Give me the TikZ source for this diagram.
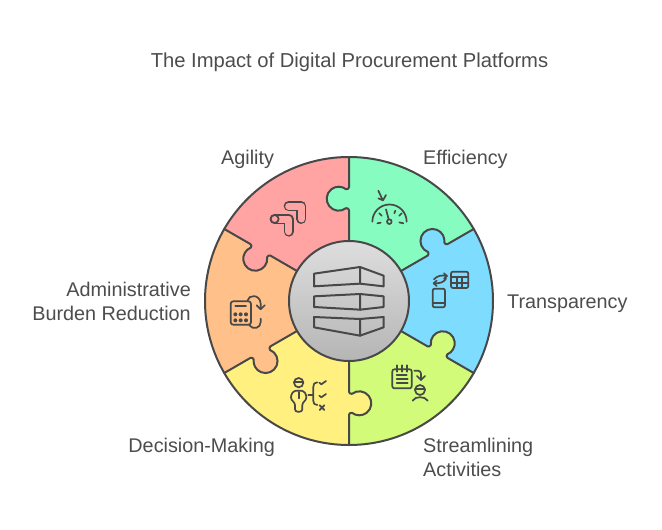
\documentclass[tikz,border=0pt]{standalone}
\usepackage{fontspec}
\setmainfont{Liberation Sans}
\definecolor{ink}{HTML}{484848}
\definecolor{txt}{HTML}{4D4D4D}
\definecolor{cgreen}{HTML}{87FCC0}
\definecolor{cblue}{HTML}{7EDCFF}
\definecolor{clime}{HTML}{D1FB79}
\definecolor{cyellow}{HTML}{FFF07F}
\definecolor{corange}{HTML}{FFC08A}
\definecolor{cpink}{HTML}{FFA3A3}
\tikzset{
  label/.style={font=\fontsize{19.8}{24}\selectfont,text=txt,inner sep=0pt,anchor=base west},
  labelr/.style={label,anchor=base east},
  title/.style={label,font=\fontsize{20.2}{24}\selectfont,anchor=base},
  edge/.style={draw=ink,line width=2pt,line cap=round,line join=round},
  icon/.style={draw=ink,line width=1.7pt,line cap=round,line join=round},
  ribouter/.style={draw=ink,line width=10pt,line cap=round,line join=round},
  ribinner/.style={draw=cpink,line width=7pt,line cap=round,line join=round},
  zoomed/.style={shift={#1},scale=1/3},
}
\newcommand{\tabcurve}{(0,-60) -- (0,-90.8) .. controls (0,-92.5) and (-1.5,-92.6) .. (-2.9,-92.84) arc[start angle=52,end angle=308,radius=12] .. controls (-1.5,-112) and (0,-112) .. (0,-113.7)}
\begin{document}
\begin{tikzpicture}[x=1pt,y=-1pt]
\useasboundingbox (0,0) rectangle (662,530);
\fill[white] (0,0) rectangle (662,530);
\node[title] (ttl) at (349.5,67.5) {The Impact of Digital Procurement Platforms};
% sectors
\foreach \k/\c in {0/cgreen,1/cblue,2/clime,3/cyellow,4/corange,5/cpink}{
  \begin{scope}[shift={(349,301)},rotate=-60*\k]
    \fill[\c] (0,0) -- (0,-144) arc[start angle=-90,end angle=-30,radius=144] -- cycle;
  \end{scope}}
\foreach \k/\c in {0/cgreen,1/cblue,2/clime,3/cyellow,4/corange,5/cpink}{
  \begin{scope}[shift={(349,301)},rotate=-60*\k]
    \fill[\c] \tabcurve -- (1,-113.7) -- (1,-90.8) -- cycle;
  \end{scope}}
\foreach \k in {0,...,5}{
  \begin{scope}[shift={(349,301)},rotate=-60*\k]
    \draw[edge] \tabcurve -- (0,-144);
  \end{scope}}
\draw[edge] (349,301) circle[radius=144];
\shade[top color=black!13,bottom color=black!29] (349,301) circle[radius=60];
\draw[edge] (349,301) circle[radius=60];
% centre icon
\begin{scope}[zoomed={(285,238)},icon/.append style={line width=2pt}]
  \draw[icon] (87,107) -- (225,87) -- (225,137) -- (87,145) -- cycle;
  \draw[icon] (225,87) -- (296,113) -- (296,145) -- (225,137);
  \draw[icon] (87,175) -- (225,168) -- (225,215) -- (87,207) -- cycle;
  \draw[icon] (225,168) -- (296,175) -- (296,207) -- (225,215);
  \draw[icon] (87,237) -- (225,243) -- (225,293) -- (87,268) -- cycle;
  \draw[icon] (225,243) -- (296,237) -- (296,268) -- (225,293);
\end{scope}
% efficiency
\begin{scope}[zoomed={(360,180)}]
  \draw[icon] (37,125) arc[start angle=180,end angle=360,radius=51.5];
  \draw[icon] (88,125) circle[radius=7];
  \draw[icon] (86,118) -- (78,88);
  \draw[icon] (52,130) -- (62,128);
  \draw[icon] (58,100) -- (65,107);
  \draw[icon] (106,92) -- (103,100);
  \draw[icon] (125,100) -- (118,107);
  \draw[icon] (118,127) -- (130,130);
  \draw[icon] (55,32) -- (68,60);
  \draw[icon] (55,55) -- (69,61) -- (78,45);
\end{scope}
% transparency
\begin{scope}[zoomed={(420,262)}]
  \draw[icon,rounded corners=2pt] (93,29) rectangle (145,78);
  \draw[icon] (93,45) -- (145,45);
  \draw[icon] (93,62) -- (145,62);
  \draw[icon] (110,45) -- (110,78);
  \draw[icon] (127,45) -- (127,78);
  \draw[icon,rounded corners=2pt] (38,80) rectangle (75,136);
  \draw[icon] (38,122) -- (75,122);
  \draw[icon] (42,52) .. controls (50,42) and (65,38) .. (80,42);
  \draw[icon] (72,34) -- (81,42) -- (72,50);
  \draw[icon] (78,50) .. controls (72,60) and (60,65) .. (42,64);
  \draw[icon] (50,56) -- (41,64) -- (50,72);
\end{scope}
% streamlining
\begin{scope}[zoomed={(385,360)}]
  \draw[icon,rounded corners=2pt] (22,28) rectangle (80,85);
  \foreach \x in {35,50,65} \draw[icon] (\x,16) -- (\x,35);
  \draw[icon] (35,45) -- (65,45);
  \draw[icon] (35,57) -- (68,57);
  \draw[icon] (35,70) -- (68,70);
  \draw[icon,rounded corners=3pt] (88,32) -- (108,32) -- (108,60);
  \draw[icon] (96,48) -- (108,60) -- (120,48);
  \draw[icon] (105,90) circle[radius=15];
  \draw[icon] (90,88) -- (120,88);
  \draw[icon] (83,122) .. controls (90,108) and (120,108) .. (128,122);
\end{scope}
% decision
\begin{scope}[zoomed={(280,370)}]
  \draw[icon] (56,38) circle[radius=14];
  \draw[icon] (42,36) -- (70,36);
  \draw[icon,rounded corners=2.5pt] (45,125) -- (45,98) -- (33,90) -- (33,74) -- (42,62) -- (70,62) -- (79,74) -- (79,90) -- (67,98) -- (67,125) -- cycle;
  \draw[icon] (56,66) -- (56,85);
  \draw[icon] (85,75) -- (100,75);
  \draw[icon] (112,37) .. controls (103,37) and (100,42) .. (100,50) -- (100,93) .. controls (100,100) and (103,105) .. (112,105);
  \draw[icon] (118,38) -- (124,43) -- (138,33);
  \draw[icon] (118,77) -- (124,82) -- (138,72);
  \draw[icon] (119,106) -- (133,120);
  \draw[icon] (133,106) -- (119,120);
\end{scope}
% administrative
\begin{scope}[zoomed={(220,292)}]
  \draw[icon,rounded corners=2.5pt] (32,28) rectangle (93,98);
  \draw[icon] (46,42) -- (78,42);
  \foreach \x in {46,62,78} \foreach \y in {67,85} \fill[ink] (\x,\y) circle[radius=6];
  \draw[icon] (83,25) .. controls (85,8) and (120,5) .. (122,35) -- (122,50);
  \draw[icon] (110,40) -- (122,52) -- (134,40);
  \draw[icon] (122,80) -- (122,90) .. controls (122,108) and (100,115) .. (88,100);
\end{scope}
% agility
\begin{scope}[zoomed={(262,190)}]
  \draw[ribouter] (80,48) -- (118,48) -- (118,87);
  \draw[ribinner] (80,48) -- (118,48) -- (118,87);
  \draw[ribouter] (38,87) -- (80,87) -- (80,125);
  \draw[ribinner] (38,87) -- (80,87) -- (80,125);
  \draw[icon,fill=cpink] (38,87) circle[radius=12];
\end{scope}
% labels
\node[label] (agl) at (221,164) {Agility};
\node[label] (eff) at (423,164) {Efficiency};
\node[label] (trn) at (507,308) {Transparency};
\node[label] (str1) at (423,452) {Streamlining};
\node[label] (str2) at (423,476) {Activities};
\node[labelr] (dec) at (275,452) {Decision-Making};
\node[labelr] (adm1) at (191,296) {Administrative};
\node[labelr] (adm2) at (191,320) {Burden Reduction};
\end{tikzpicture}
\end{document}
